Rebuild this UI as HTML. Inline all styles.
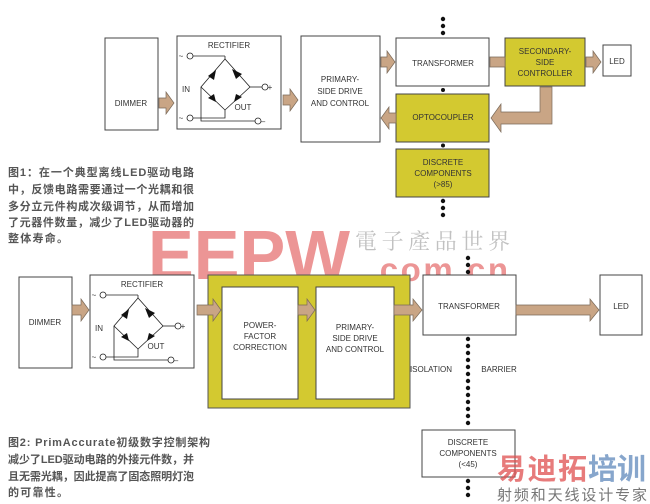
<!DOCTYPE html>
<html><head><meta charset="utf-8"><style>
body{margin:0;background:#fff;}
svg{display:block;font-family:"Liberation Sans",Arial,sans-serif;}
.c{font-family:"Liberation Sans","Noto Sans CJK SC",sans-serif;font-size:11px;font-weight:bold;fill:#555;}
</style></head><body>
<svg width="650" height="504" viewBox="0 0 650 504" xmlns="http://www.w3.org/2000/svg">
<defs>
<g id="rect">
<rect x="177" y="36" width="104" height="93" fill="#fff" stroke="#444" stroke-width="1"/>
<text x="229" y="48" font-size="8" text-anchor="middle" fill="#333">RECTIFIER</text>
<g stroke="#222" stroke-width="0.8" fill="none">
<polygon points="225,59 201,87 225,110 250,87"/>
<line x1="193" y1="56" x2="225" y2="56"/><line x1="225" y1="56" x2="225" y2="59"/>
<circle cx="190" cy="56" r="3" fill="#fff"/>
<polyline points="225,110 225,118 193,118"/><circle cx="190" cy="118" r="3" fill="#fff"/>
<polyline points="201,87 201,121 255,121"/><circle cx="258" cy="121" r="3" fill="#fff"/>
<line x1="250" y1="87" x2="262" y2="87"/><circle cx="265" cy="87" r="3" fill="#fff"/>
</g>
<g fill="#111"><polygon points="208,76 216,70 214,80"/><polygon points="232,69 242,74 236,79"/><polygon points="208,98 216,102 214,94"/><polygon points="234,102 242,97 236,94"/></g>
<text x="181" y="59" font-size="8" fill="#333">~</text><text x="181" y="121" font-size="8" fill="#333">~</text>
<text x="186" y="92" font-size="8" fill="#333">IN</text>
<text x="270" y="90" font-size="8" fill="#333">+</text><text x="263" y="124" font-size="8" fill="#333">–</text>
<text x="243" y="110" font-size="8" fill="#333">OUT</text>
</g>
</defs>

<!-- watermark -->
<text x="148" y="279" font-size="70" font-weight="bold" fill="#e05050" opacity="0.6" textLength="202" lengthAdjust="spacingAndGlyphs">EEPW</text>
<text x="355" y="249" font-size="22" fill="#999" opacity="0.6" font-family="Noto Serif CJK SC,serif" textLength="155">電子產品世界</text>
<text x="368" y="281" font-size="33" font-weight="bold" fill="#e05050" opacity="0.6" textLength="140">.com.cn</text>

<g font-size="8" fill="#333" text-anchor="middle">
<!-- Fig 1 -->
<rect x="105" y="38" width="53" height="92" fill="#fff" stroke="#444"/>
<text x="131" y="106">DIMMER</text>
<use href="#rect"/>
<rect x="301" y="36" width="79" height="106" fill="#fff" stroke="#444"/>
<text x="340" y="82">PRIMARY-</text><text x="340" y="94">SIDE DRIVE</text><text x="340" y="106">AND CONTROL</text>
<rect x="396" y="38" width="93" height="48" fill="#fff" stroke="#444"/>
<text x="443" y="66">TRANSFORMER</text>
<rect x="505" y="38" width="80" height="48" fill="#d3c930" stroke="#444"/>
<text x="545" y="54">SECONDARY-</text><text x="545" y="65">SIDE</text><text x="545" y="76">CONTROLLER</text>
<rect x="603" y="45" width="28" height="31" fill="#fff" stroke="#444"/>
<text x="617" y="64">LED</text>
<rect x="396" y="94" width="93" height="48" fill="#d3c930" stroke="#444"/>
<text x="443" y="120">OPTOCOUPLER</text>
<rect x="396" y="149" width="93" height="48" fill="#d3c930" stroke="#444"/>
<text x="443" y="165">DISCRETE</text><text x="443" y="176">COMPONENTS</text><text x="443" y="187">(&gt;85)</text>
<g fill="#c9a585" stroke="#7a6a5a" stroke-width="0.7">
<polygon points="159,98 166,98 166,92 174,103 166,114 166,108 159,108"/>
<polygon points="283,95 290,95 290,89 298,100 290,111 290,105 283,105"/>
<polygon points="381,57 387,57 387,51 395,62 387,73 387,67 381,67"/>
<polygon points="490,57 505,57 505,67 490,67"/>
<polygon points="586,57 593,57 593,51 601,62 593,73 593,67 586,67"/>
<polygon points="540,87 552,87 552,124 501,124 501,132 491,118 501,104 501,112 540,112"/>
<polygon points="396,113 389,113 389,107 381,118 389,129 389,123 396,123"/>
</g>
<g fill="#111"><circle cx="443" cy="19" r="2.2"/><circle cx="443" cy="26" r="2.2"/><circle cx="443" cy="33" r="2.2"/><circle cx="443" cy="90" r="2"/><circle cx="443" cy="145.5" r="2"/><circle cx="443" cy="201" r="2.2"/><circle cx="443" cy="208" r="2.2"/><circle cx="443" cy="215" r="2.2"/></g>
</g>
<text class="c" x="8" y="176" textLength="186">图1：在一个典型离线LED驱动电路</text>
<text class="c" x="8" y="193" textLength="186">中，反馈电路需要通过一个光耦和很</text>
<text class="c" x="8" y="210" textLength="186">多分立元件构成次级调节，从而增加</text>
<text class="c" x="8" y="226" textLength="186">了元器件数量，减少了LED驱动器的</text>
<text class="c" x="8" y="242" textLength="60">整体寿命。</text>

<g font-size="8" fill="#333" text-anchor="middle">
<!-- Fig 2 -->
<rect x="19" y="277" width="53" height="91" fill="#fff" stroke="#444"/>
<text x="45" y="325">DIMMER</text>
<use href="#rect" transform="translate(-87,239)"/>
<rect x="208" y="275" width="202" height="133" fill="#d3c930" stroke="#555"/>
<rect x="222" y="287" width="76" height="112" fill="#fff" stroke="#444"/>
<text x="260" y="328">POWER-</text><text x="260" y="339">FACTOR</text><text x="260" y="350">CORRECTION</text>
<rect x="316" y="287" width="78" height="112" fill="#fff" stroke="#444"/>
<text x="355" y="330">PRIMARY-</text><text x="355" y="341">SIDE DRIVE</text><text x="355" y="352">AND CONTROL</text>
<rect x="423" y="275" width="93" height="60" fill="#fff" stroke="#444"/>
<text x="469" y="309">TRANSFORMER</text>
<rect x="600" y="275" width="42" height="60" fill="#fff" stroke="#444"/>
<text x="621" y="309">LED</text>
<text x="431" y="372">ISOLATION</text><text x="499" y="372">BARRIER</text>
<rect x="422" y="430" width="93" height="47" fill="#fff" stroke="#444"/>
<text x="468" y="445">DISCRETE</text><text x="468" y="456">COMPONENTS</text><text x="468" y="467">(&lt;45)</text>
<g fill="#c9a585" stroke="#7a6a5a" stroke-width="0.7">
<polygon points="72,305 81,305 81,299 89,310 81,321 81,315 72,315"/>
<polygon points="197,305 213,305 213,299 221,310 213,321 213,315 197,315"/>
<polygon points="298,305 307,305 307,299 315,310 307,321 307,315 298,315"/>
<polygon points="394,305 413,305 413,299 422,310 413,321 413,315 394,315"/>
<polygon points="516,305 590,305 590,299 599,310 590,321 590,315 516,315"/>
</g>
<g fill="#111">
<circle cx="468" cy="258" r="2.2"/><circle cx="468" cy="265" r="2.2"/><circle cx="468" cy="272" r="2.2"/>
<circle cx="468" cy="339" r="2.2"/><circle cx="468" cy="346" r="2.2"/><circle cx="468" cy="353" r="2.2"/><circle cx="468" cy="360" r="2.2"/><circle cx="468" cy="367" r="2.2"/><circle cx="468" cy="374" r="2.2"/><circle cx="468" cy="381" r="2.2"/><circle cx="468" cy="388" r="2.2"/><circle cx="468" cy="395" r="2.2"/><circle cx="468" cy="402" r="2.2"/><circle cx="468" cy="409" r="2.2"/><circle cx="468" cy="416" r="2.2"/><circle cx="468" cy="423" r="2.2"/>
<circle cx="468" cy="481" r="2.2"/><circle cx="468" cy="488" r="2.2"/><circle cx="468" cy="495" r="2.2"/>
</g>
</g>
<text class="c" x="8" y="446" textLength="202">图2: PrimAccurate初级数字控制架构</text>
<text class="c" x="8" y="463" textLength="186">减少了LED驱动电路的外接元件数，并</text>
<text class="c" x="8" y="480" textLength="186">且无需光耦，因此提高了固态照明灯泡</text>
<text class="c" x="8" y="496" textLength="60">的可靠性。</text>
<text x="497" y="479" font-size="29" font-weight="bold" fill="#e05050" opacity="0.75" font-family="Noto Sans CJK SC,sans-serif" textLength="90">易迪拓</text><text x="588" y="479" font-size="29" font-weight="bold" fill="#6a90c0" opacity="0.8" font-family="Noto Sans CJK SC,sans-serif" textLength="58">培训</text>
<text x="497" y="500" font-size="15" fill="#777" font-family="Noto Sans CJK SC,sans-serif" textLength="150">射频和天线设计专家</text>
</svg>
</body></html>
